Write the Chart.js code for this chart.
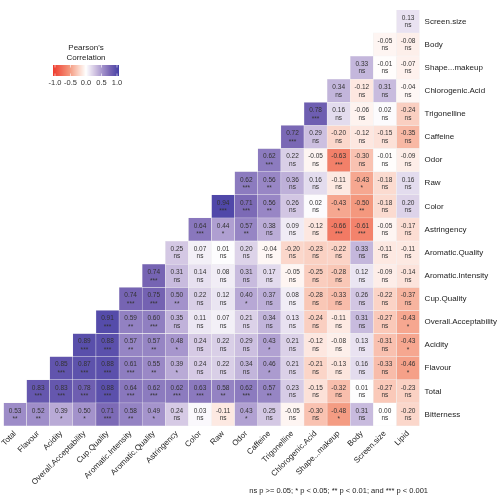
<!DOCTYPE html>
<html><head><meta charset="utf-8">
<script src="https://cdn.jsdelivr.net/npm/chart.js@4/dist/chart.umd.min.js"></script>
<style>html,body{margin:0;padding:0;background:#fff}#wrap{width:500px;height:497px;position:relative}</style>
</head><body><div id="wrap"><canvas id="c" width="500" height="497"></canvas></div>
<script>
const columns = ['Total','Flavour','Acidity','Overall.Acceptability','Cup.Quality','Aromatic.Intensity','Aromatic.Quality','Astringency','Color','Raw','Odor','Caffeine','Trigonelline','Chlorogenic.Acid','Shape...makeup','Body','Screen.size','Lipid'];
const rows = ['Screen.size','Body','Shape...makeup','Chlorogenic.Acid','Trigonelline','Caffeine','Odor','Raw','Color','Astringency','Aromatic.Quality','Aromatic.Intensity','Cup.Quality','Overall.Acceptability','Acidity','Flavour','Total','Bitterness'];

// correlation values per row (lower triangle, left to right)
const screenSizeR = [0.13];
const bodyR = [-0.05,-0.08];
const shapeR = [0.33,-0.01,-0.07];
const chlorogenicR = [0.34,-0.12,0.31,-0.04];
const trigonellineR = [0.78,0.16,-0.06,0.02,-0.24];
const caffeineR = [0.72,0.29,-0.20,-0.12,-0.15,-0.35];
const odorR = [0.62,0.22,-0.05,-0.63,-0.30,-0.01,-0.09];
const rawR = [0.62,0.56,0.36,0.16,-0.11,-0.43,-0.18,0.16];
const colorR = [0.94,0.71,0.56,0.26,0.02,-0.43,-0.50,-0.18,0.20];
const astringencyR = [0.64,0.44,0.57,0.38,0.09,-0.12,-0.66,-0.61,-0.05,-0.17];
const aromQualityR = [0.25,0.07,0.01,0.20,-0.04,-0.20,-0.23,-0.22,0.33,-0.11,-0.11];
const aromIntensityR = [0.74,0.31,0.14,0.08,0.31,0.17,-0.05,-0.25,-0.28,0.12,-0.09,-0.14];
const cupQualityR = [0.74,0.75,0.50,0.22,0.12,0.40,0.37,0.08,-0.28,-0.33,0.26,-0.22,-0.37];
const overallR = [0.91,0.59,0.60,0.35,0.11,0.07,0.21,0.34,0.13,-0.24,-0.11,0.31,-0.27,-0.43];
const acidityR = [0.89,0.88,0.57,0.57,0.48,0.24,0.22,0.29,0.43,0.21,-0.12,-0.08,0.13,-0.31,-0.43];
const flavourR = [0.85,0.87,0.88,0.61,0.55,0.39,0.24,0.22,0.34,0.46,0.21,-0.21,-0.13,0.16,-0.33,-0.46];
const totalR = [0.83,0.83,0.78,0.88,0.64,0.62,0.62,0.63,0.58,0.62,0.57,0.23,-0.15,-0.32,0.01,-0.27,-0.23];
const bitternessR = [0.53,0.52,0.39,0.50,0.71,0.58,0.49,0.24,0.03,-0.11,0.43,0.25,-0.05,-0.30,-0.48,0.31,0.00,-0.20];

// significance labels per row
const screenSizeP = ['ns'];
const bodyP = ['ns','ns'];
const shapeP = ['ns','ns','ns'];
const chlorogenicP = ['ns','ns','ns','ns'];
const trigonellineP = ['***','ns','ns','ns','ns'];
const caffeineP = ['***','ns','ns','ns','ns','ns'];
const odorP = ['***','ns','ns','***','ns','ns','ns'];
const rawP = ['***','**','ns','ns','ns','*','ns','ns'];
const colorP = ['***','***','**','ns','ns','*','**','ns','ns'];
const astringencyP = ['***','*','**','ns','ns','ns','***','***','ns','ns'];
const aromQualityP = ['ns','ns','ns','ns','ns','ns','ns','ns','ns','ns','ns'];
const aromIntensityP = ['***','ns','ns','ns','ns','ns','ns','ns','ns','ns','ns','ns'];
const cupQualityP = ['***','***','**','ns','ns','*','ns','ns','ns','ns','ns','ns','ns'];
const overallP = ['***','**','***','ns','ns','ns','ns','ns','ns','ns','ns','ns','ns','*'];
const acidityP = ['***','***','**','**','*','ns','ns','ns','*','ns','ns','ns','ns','ns','*'];
const flavourP = ['***','***','***','***','**','*','ns','ns','ns','*','ns','ns','ns','ns','ns','*'];
const totalP = ['***','***','***','***','***','***','***','***','**','***','**','ns','ns','ns','ns','ns','ns'];
const bitternessP = ['**','**','*','*','***','**','*','ns','ns','ns','*','ns','ns','ns','*','ns','ns','ns'];

const legendTicks = [-1.0,-0.5,0.0,0.5,1.0];
const caption = 'ns p >= 0.05; * p < 0.05; ** p < 0.01; and *** p < 0.001';

const rowValues = [screenSizeR,bodyR,shapeR,chlorogenicR,trigonellineR,caffeineR,odorR,rawR,colorR,astringencyR,aromQualityR,aromIntensityR,cupQualityR,overallR,acidityR,flavourR,totalR,bitternessR];
const rowSig = [screenSizeP,bodyP,shapeP,chlorogenicP,trigonellineP,caffeineP,odorP,rawP,colorP,astringencyP,aromQualityP,aromIntensityP,cupQualityP,overallP,acidityP,flavourP,totalP,bitternessP];
const N = columns.length;

const stops = [[-1,[238,58,45]],[-0.5,[244,152,126]],[-0.25,[250,205,190]],[0,[255,255,255]],[0.25,[212,200,228]],[0.5,[163,146,203]],[0.75,[116,98,178]],[1,[68,64,166]]];
function colorFor(v){
  for(let i=0;i<stops.length-1;i++){
    const [a,ca]=stops[i],[b,cb]=stops[i+1];
    if(v>=a && v<=b){
      const t=(v-a)/(b-a);
      const c=ca.map((x,j)=>Math.round(x+(cb[j]-x)*t));
      return `rgb(${c[0]},${c[1]},${c[2]})`;
    }
  }
  return v<0?'rgb(238,58,45)':'rgb(68,64,166)';
}
function cellIndex(r,i){ return i-(N-1-r); }

const datasets = rows.map((name,r)=>({
  label:name,
  data: columns.map((c,i)=> cellIndex(r,i)>=0 ? [r-0.5,r+0.5] : null),
  backgroundColor: ctx => { const k=cellIndex(ctx.datasetIndex,ctx.dataIndex); return k>=0?colorFor(rowValues[ctx.datasetIndex][k]):'transparent'; },
  borderColor:'#f2f2f2',
  borderWidth:0.5,
  borderSkipped:false,
  grouped:false,
  barPercentage:1,
  categoryPercentage:1
}));

const FONT='"Liberation Sans", Arial, sans-serif';

const cellText = {
  id:'cellText',
  afterDatasetsDraw(chart){
    const ctx=chart.ctx;
    ctx.save();
    ctx.fillStyle='#333';
    ctx.textAlign='center';
    ctx.textBaseline='middle';
    chart.data.datasets.forEach((ds,r)=>{
      const meta=chart.getDatasetMeta(r);
      meta.data.forEach((el,i)=>{
        const k=cellIndex(r,i);
        if(k<0) return;
        const p=el.getCenterPoint();
        ctx.font='6.5px '+FONT;
        ctx.fillText(rowValues[r][k].toFixed(2),p.x,p.y-3.5);
        const s=rowSig[r][k];
        ctx.fillText(s,p.x,p.y+(s==='ns'?4:5));
      });
    });
    ctx.restore();
  },
  afterDraw(chart){
    const ctx=chart.ctx;
    ctx.save();
    ctx.fillStyle='#222';
    ctx.textAlign='center';
    ctx.textBaseline='middle';
    ctx.font='8px '+FONT;
    ctx.fillText("Pearson's",86,48);
    ctx.fillText('Correlation',86,58);
    const x0=53,x1=119,y0=65,y1=76;
    for(let x=x0;x<x1;x++){
      const v=-1+2*(x+0.5-x0)/(x1-x0);
      ctx.fillStyle=colorFor(v);
      ctx.fillRect(x,y0,1,y1-y0);
    }
    ctx.font='7.5px '+FONT;
    legendTicks.forEach(v=>{
      const x=x0+2+(v+1)/2*(x1-x0-4);
      ctx.strokeStyle='#fff';ctx.lineWidth=0.6;
      ctx.beginPath();ctx.moveTo(x,y0);ctx.lineTo(x,y0+2.5);ctx.moveTo(x,y1);ctx.lineTo(x,y1-2.5);ctx.stroke();
      ctx.fillStyle='#333';
      ctx.fillText(v.toFixed(1),x,82.5);
    });
    ctx.textAlign='right';
    ctx.font='7.5px '+FONT;
    ctx.fillStyle='#222';
    ctx.fillText(caption,428,491);
    ctx.restore();
  }
};

new Chart(document.getElementById('c'),{
  type:'bar',
  data:{labels:columns,datasets},
  options:{
    responsive:false,
    animation:false,
    layout:{padding:{left:3.5,top:2,right:0,bottom:11}},
    plugins:{legend:{display:false},tooltip:{enabled:false},title:{display:false}},
    scales:{
      x:{type:'category',offset:true,grid:{display:false,drawTicks:false},border:{display:false},
        ticks:{minRotation:45,maxRotation:45,autoSkip:false,font:{size:8,family:FONT},color:'#222',padding:3},
        afterFit:s=>{s.height=60;}},
      y:{type:'linear',position:'right',reverse:true,min:-0.5,max:17.5,grid:{display:false,drawTicks:false},border:{display:false},
        afterBuildTicks:s=>{s.ticks=rows.map((_,i)=>({value:i}));},
        ticks:{autoSkip:false,callback:(v)=>rows[v],font:{size:8,family:FONT},color:'#222',padding:5},
        afterFit:s=>{s.width=80.4;}}
    }
  },
  plugins:[cellText]
});
</script>
</body></html>
